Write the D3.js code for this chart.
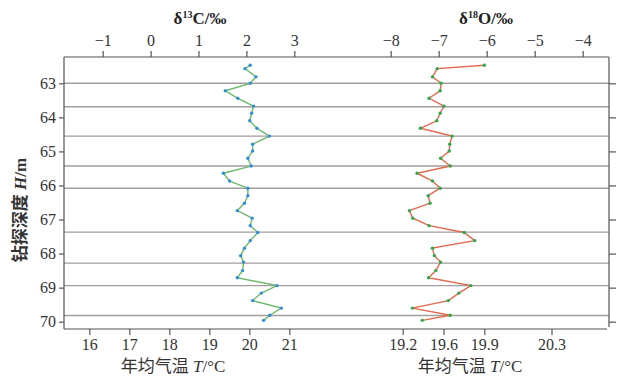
<!DOCTYPE html>
<html>
<head>
<meta charset="utf-8">
<script src="https://cdn.jsdelivr.net/npm/d3@7"></script>
<style>
  body { margin: 0; background: #fff; }
  svg { display: block; }
  .tick text { font-family: "Liberation Serif", "Times New Roman", serif; font-size: 16px; fill: #333; }
  .tick line, .domain { stroke: #555; stroke-width: 1.2; }
</style>
</head>
<body>
<figure id="chart" style="margin:0"></figure>
<script>
// depth of each sample (m)
const depth = [62.47, 62.57, 62.81, 63.0, 63.22, 63.44, 63.67, 63.88, 64.1, 64.32, 64.55, 64.79,
  64.99, 65.2, 65.43, 65.64, 65.87, 66.08, 66.3, 66.52, 66.74, 66.96, 67.18, 67.38,
  67.62, 67.84, 68.06, 68.25, 68.5, 68.71, 68.94, 69.16, 69.38, 69.6, 69.81, 69.96];
const d13C = [2.08, 1.97, 2.2, 2.08, 1.56, 1.82, 2.15, 2.11, 2.07, 2.22, 2.48, 2.13,
  2.13, 2.03, 2.1, 1.52, 1.65, 2.03, 2.03, 1.96, 1.81, 2.12, 2.08, 2.24,
  2.08, 1.96, 1.88, 1.94, 1.92, 1.81, 2.64, 2.31, 2.13, 2.73, 2.49, 2.36];
const d18O = [-6.05, -7.03, -7.13, -6.95, -6.97, -7.2, -6.89, -6.97, -7.04, -7.38, -6.72, -6.77,
  -6.78, -6.96, -6.76, -7.45, -7.13, -6.97, -7.22, -7.18, -7.61, -7.54, -7.2, -6.47,
  -6.25, -7.13, -7.09, -6.96, -7.06, -7.21, -6.33, -6.58, -6.8, -7.55, -6.76, -7.34];
// boundary lines (m)
const layerDepths = [63.0, 63.69, 64.55, 65.43, 66.08, 67.37, 68.28, 68.94, 69.82];
const depthTicks = [63, 64, 65, 66, 67, 68, 69, 70];
const d13CTicks = [-1, 0, 1, 2, 3];
const d18OTicks = [-8, -7, -6, -5, -4];
const tempLeftTicks = [16, 17, 18, 19, 20, 21];
// right temperature ticks and the d18O value they sit at
const tempRightTicks = [19.2, 19.6, 19.9, 20.3];
const tempRightAtD18O = [-7.75, -6.9, -6.05, -4.65];

const W = 623, H = 378;
const margin = { top: 57, right: 14, bottom: 49, left: 64 };
const width = W - margin.left - margin.right;
const height = H - margin.top - margin.bottom;

const svg = d3.select('#chart').append('svg').attr('width', W).attr('height', H);
const g = svg.append('g').attr('transform', `translate(${margin.left},${margin.top})`);

const y = d3.scaleLinear().domain([63, 70]).range([26.3, 264.7]);
const xC = d3.scaleLinear().domain([-1, 3]).range([38.7, 230.3]);
const xO = d3.scaleLinear().domain([-8, -4]).range([326.7, 518.7]);
const xT = d3.scaleLinear().domain([16, 21]).range([25.3, 225.3]);
const intFmt = d3.format('d');

// layer boundaries
g.selectAll('.layer')
  .data(layerDepths)
  .enter()
  .append('line')
  .attr('x1', 0).attr('x2', width)
  .attr('y1', (d) => y(d)).attr('y2', (d) => y(d))
  .style('stroke', '#a39d9b')
  .style('stroke-width', 1.4);

// axes
g.append('g').call(d3.axisLeft(y).tickValues(depthTicks).tickSize(5).tickPadding(3).tickFormat(intFmt))
  .call((a) => a.select('.domain').attr('d', `M0,0V${height}`));
g.append('g').attr('transform', `translate(${width},0)`)
  .call(d3.axisRight(y).tickValues(depthTicks).tickSize(7).tickFormat(''))
  .call((a) => a.select('.domain').attr('d', `M0,0V${height - 2}`));
g.append('g').call(d3.axisTop(xC).tickValues(d13CTicks).tickSize(6).tickPadding(5).tickFormat(intFmt))
  .call((a) => a.select('.domain').attr('d', `M0,0H${width}`));
g.append('g').call(d3.axisTop(xO).tickValues(d18OTicks).tickSize(6).tickPadding(5).tickFormat(intFmt))
  .call((a) => a.select('.domain').remove());
g.append('g').attr('transform', `translate(0,${height})`)
  .call(d3.axisBottom(xT).tickValues(tempLeftTicks).tickSize(6).tickPadding(4).tickFormat(intFmt))
  .call((a) => a.select('.domain').attr('d', `M0,0H${width - 2}`));
const tempRight = d3.scaleOrdinal().domain(tempRightAtD18O).range(tempRightTicks);
g.append('g').attr('transform', `translate(0,${height})`)
  .call(d3.axisBottom(xO).tickValues(tempRightAtD18O).tickSize(6).tickPadding(4)
    .tickFormat((d) => d3.format('.1f')(tempRight(d))))
  .call((a) => a.select('.domain').remove());

// series
function drawSeries(xs, values, lineColor, dotColor) {
  const pts = values.map((v, i) => [xs(v), y(depth[i])]);
  g.append('path')
    .datum(pts)
    .attr('d', d3.line())
    .style('fill', 'none')
    .style('stroke', lineColor)
    .style('stroke-width', 1.4);
  g.selectAll(null)
    .data(pts)
    .enter()
    .append('circle')
    .attr('cx', (d) => d[0])
    .attr('cy', (d) => d[1])
    .attr('r', 1.7)
    .attr('fill', dotColor);
}
drawSeries(xC, d13C, '#6cb96a', '#2f8fd8');
drawSeries(xO, d18O, '#e3684f', '#2fa84a');

// titles
const serif = '"Liberation Serif", "Times New Roman", serif';
const cjk = '"Liberation Serif", "Noto Sans CJK SC", serif';
function isoTitle(x, sup, el) {
  const t = svg.append('text').attr('x', x).attr('y', 24).attr('text-anchor', 'middle')
    .style('font-family', serif).style('font-weight', 'bold').style('font-size', '17px').style('fill', '#222');
  t.append('tspan').text('δ');
  t.append('tspan').attr('dy', -6).style('font-size', '10px').text(sup);
  t.append('tspan').attr('dy', 6).text(el + '/‰');
}
isoTitle(200, '13', 'C');
isoTitle(486, '18', 'O');

function tempTitle(x) {
  const t = svg.append('text').attr('x', x).attr('y', 372).attr('text-anchor', 'middle')
    .style('font-family', cjk).style('font-size', '17px').style('fill', '#333');
  t.append('tspan').text('年均气温 ');
  t.append('tspan').style('font-style', 'italic').text('T');
  t.append('tspan').text('/°C');
}
tempTitle(173);
tempTitle(470);

const yl = svg.append('text')
  .attr('transform', 'translate(26,210) rotate(-90)')
  .attr('text-anchor', 'middle')
  .style('font-family', cjk).style('font-weight', 'bold').style('font-size', '17px').style('fill', '#333');
yl.append('tspan').text('钻探深度 ');
yl.append('tspan').style('font-style', 'italic').text('H');
yl.append('tspan').text('/m');
</script>
</body>
</html>
